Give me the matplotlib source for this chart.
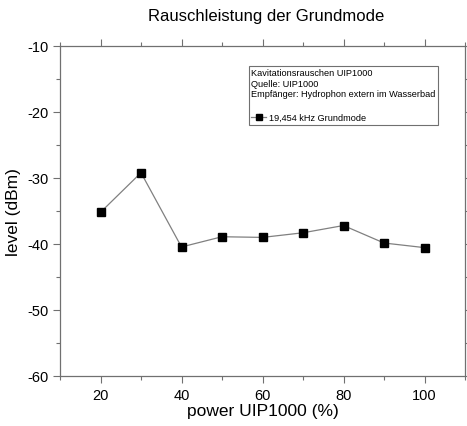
import matplotlib
matplotlib.use("Agg")
import matplotlib.pyplot as plt
from matplotlib.ticker import MultipleLocator

plt.rcParams["font.family"] = ["Liberation Sans", "DejaVu Sans"]
plt.rcParams["axes.unicode_minus"] = False

power = [20, 30, 40, 50, 60, 70, 80, 90, 100]
level = [-35.2, -29.2, -40.45, -38.9, -39.0, -38.3, -37.2, -39.85, -40.55]
series_label = "19,454 kHz Grundmode"
legend_title = "Kavitationsrauschen UIP1000\nQuelle: UIP1000\nEmpfänger: Hydrophon extern im Wasserbad\n"

fig = plt.figure(figsize=(4.67, 4.27), dpi=100)
ax = fig.add_axes([60 / 467, 1 - 377 / 427, 405 / 467, 330 / 427])

ax.plot(power, level, color="#808080", lw=0.9, marker="s", markersize=6,
        markerfacecolor="black", markeredgecolor="black", label=series_label)

ax.set_xlim(10, 110)
ax.set_ylim(-60, -10)
ax.xaxis.set_major_locator(MultipleLocator(20))
ax.xaxis.set_minor_locator(MultipleLocator(10))
ax.yaxis.set_major_locator(MultipleLocator(10))
ax.yaxis.set_minor_locator(MultipleLocator(5))

for s in ax.spines.values():
    s.set_color("#707070")
    s.set_linewidth(0.9)
ax.tick_params(which="both", direction="out", top=True, right=True,
               color="#707070", width=0.8, labelsize=10.5)
ax.tick_params(which="major", length=5)
ax.tick_params(which="minor", length=3)

ax.set_xlabel("power UIP1000 (%)", fontsize=12.5, labelpad=1)
ax.set_ylabel("level (dBm)", fontsize=12.5, labelpad=4)
ax.set_title("Rauschleistung der Grundmode", fontsize=12, pad=19, x=0.51)

leg = ax.legend(title=legend_title, loc="upper left",
                bbox_to_anchor=((244 - 60) / 405, (377 - 62) / 330),
                fontsize=6.6, title_fontsize=6.6, alignment="left",
                fancybox=False, edgecolor="#707070", framealpha=1,
                handlelength=1.6, handletextpad=0.3, borderpad=0.3,
                markerscale=0.75)
leg.get_title().set_linespacing(1.2)
leg.get_frame().set_linewidth(0.8)

fig.savefig("out.png", dpi=100)
